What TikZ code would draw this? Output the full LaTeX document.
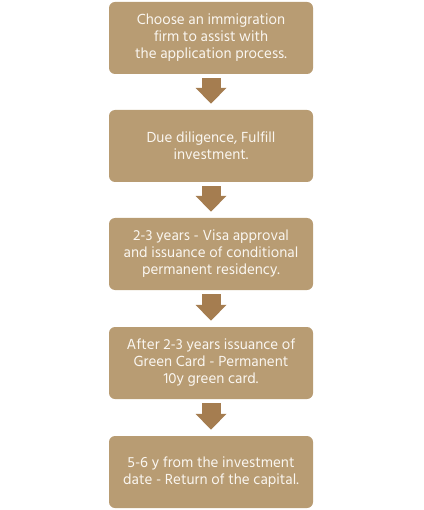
\documentclass[tikz,border=0pt]{standalone}
\usepackage{fontspec}
\setmainfont{Hind Madurai}
\usepackage{xcolor}
\definecolor{stepfill}{RGB}{184,156,115}
\definecolor{steparrow}{RGB}{165,125,80}
\definecolor{steptext}{RGB}{250,246,240}
\usetikzlibrary{arrows.meta, positioning}

\begin{document}
\begin{tikzpicture}[x=1pt, y=-1pt,
    stepbox/.style={fill=stepfill, rounded corners=6pt, text=steptext,
      align=center, minimum width=204pt, minimum height=72pt,
      font=\fontsize{15}{17}\selectfont},
    steplink/.style={steparrow, line width=19pt,
      -{Triangle[length=16pt, width=30pt]}, shorten <=4pt, shorten >=6pt}]
  \useasboundingbox (0,0) rectangle (423,510);
  % Process steps
  \node[stepbox] (s1) at (211,38) {Choose an immigration\\firm to assist with\\the application process.};
  \node[stepbox] (s2) at (211,146) {Due diligence, Fulfill\\investment.};
  \node[stepbox] (s3) at (211,254) {2-3 years - Visa approval\\and issuance of conditional\\permanent residency.};
  \node[stepbox] (s4) at (211,363) {After 2-3 years issuance of\\Green Card - Permanent\\10y green card.};
  \node[stepbox] (s5) at (211,472) {5-6 y from the investment\\date - Return of the capital.};
  % Arrows between steps
  \draw[steplink] (s1) -- (s2);
  \draw[steplink] (s2) -- (s3);
  \draw[steplink] (s3) -- (s4);
  \draw[steplink] (s4) -- (s5);
\end{tikzpicture}
\end{document}
